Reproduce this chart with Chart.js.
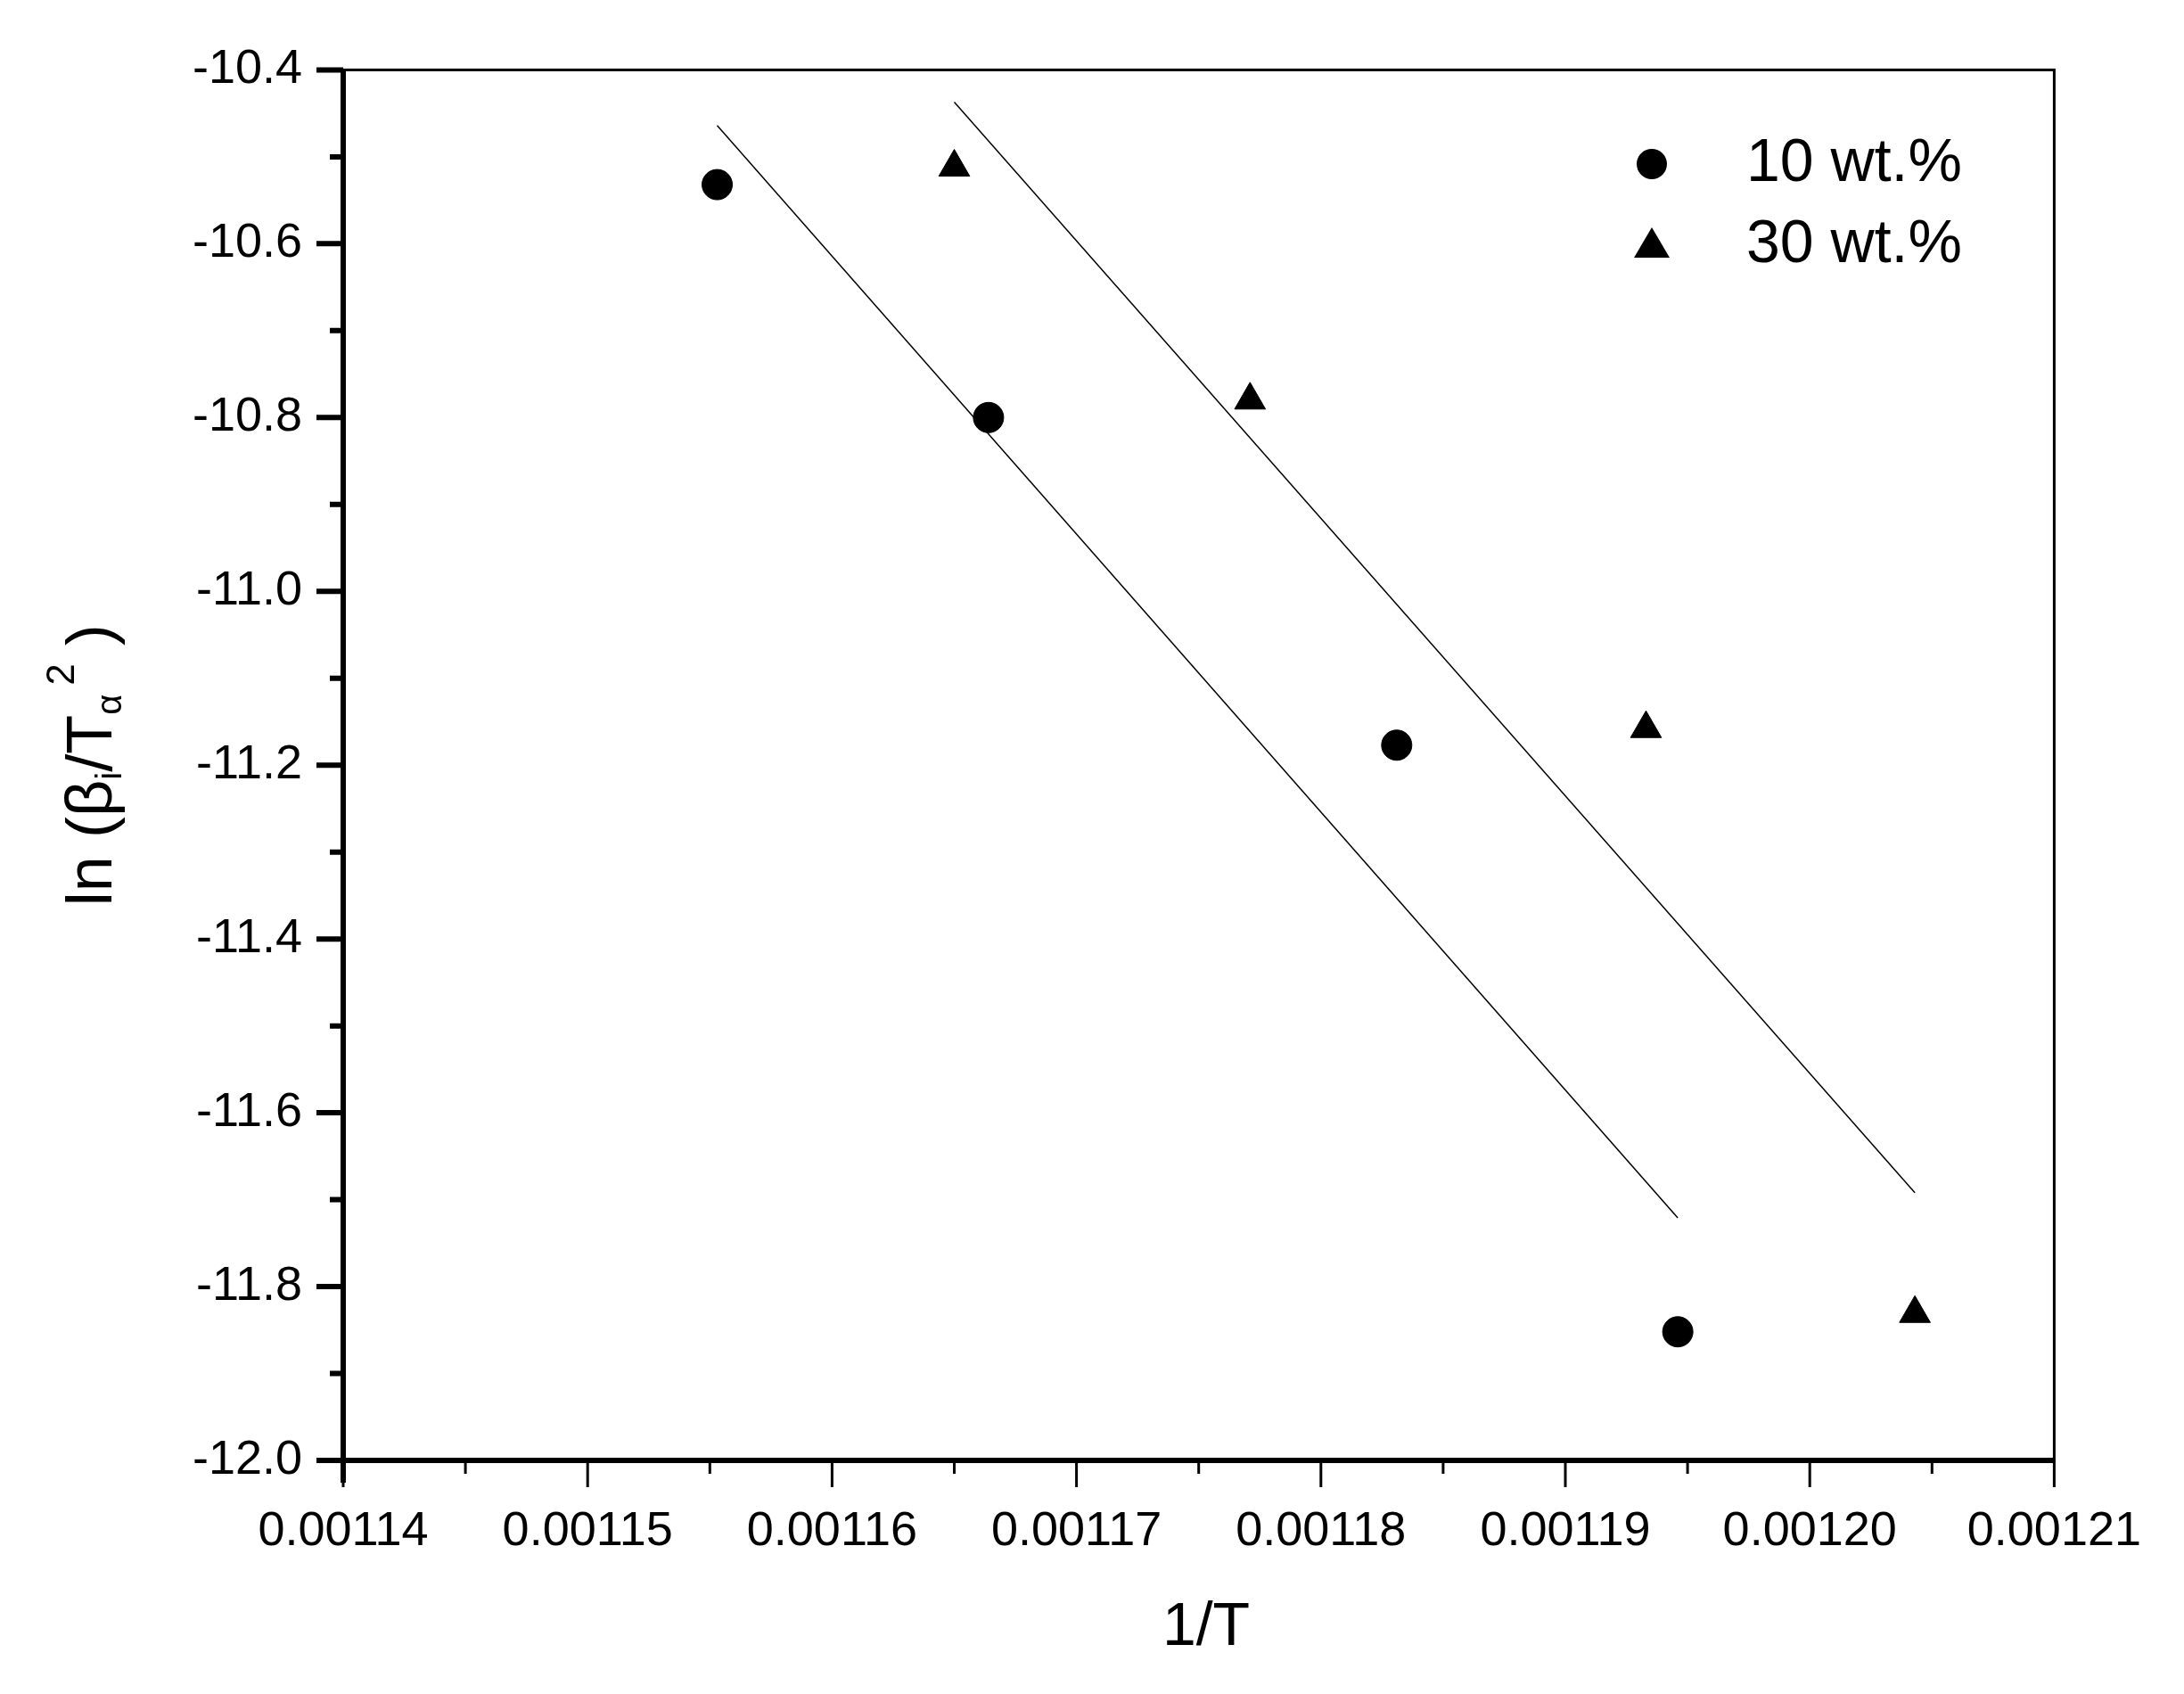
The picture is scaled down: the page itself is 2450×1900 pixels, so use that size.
<!DOCTYPE html>
<html>
<head>
<meta charset="utf-8">
<script src="https://cdn.jsdelivr.net/npm/chart.js@4.4.0/dist/chart.umd.min.js"></script>
<style>
  html, body { margin: 0; padding: 0; background: #fff; }
  #wrap { width: 2450px; height: 1900px; }
</style>
</head>
<body>
<div id="wrap"><canvas id="chart" width="2450" height="1900"></canvas></div>
<script>
// Values
const x10 = [0.0011553, 0.0011664, 0.0011831, 0.0011946];
const y10 = [-10.532, -10.800, -11.177, -11.852];
const x30 = [0.0011650, 0.0011771, 0.0011933, 0.0012043];
const y30 = [-10.512, -10.780, -11.158, -11.831];
// fitted lines (end points)
const fit10X = [0.0011553, 0.0011946];
const fit10Y = [-10.464, -11.721];
const fit30X = [0.0011650, 0.0012043];
const fit30Y = [-10.437, -11.692];
const legendLabels = ['10 wt.%', '30 wt.%'];

const FONT = '"Liberation Sans", Arial, sans-serif';
const pts = (xs, ys) => xs.map((x, i) => ({ x: x, y: ys[i] }));

const frame = {
  id: 'frame',
  afterDraw(chart) {
    const ctx = chart.ctx, a = chart.chartArea;
    const xs = chart.scales.x, ys = chart.scales.y;
    ctx.save();
    ctx.strokeStyle = '#000';
    ctx.lineWidth = 3;
    ctx.strokeRect(a.left, a.top, a.right - a.left, a.bottom - a.top);
    ctx.lineWidth = 6;
    ctx.beginPath();
    ctx.moveTo(a.left - 25, a.bottom); ctx.lineTo(a.right, a.bottom);
    ctx.moveTo(a.left, a.top); ctx.lineTo(a.left, a.bottom + 25);
    ctx.stroke();
    // ticks
    ctx.lineWidth = 3;
    ctx.beginPath();
    for (let i = 0; i <= 14; i++) {
      const v = 0.00114 + i * 0.000005;
      const px = xs.getPixelForValue(v);
      ctx.moveTo(px, a.bottom); ctx.lineTo(px, a.bottom + (i % 2 ? 15 : 30));
    }
    ctx.stroke();
    ctx.lineWidth = 6;
    ctx.beginPath();
    for (let i = 0; i <= 16; i++) {
      const v = -12 + i * 0.1;
      const py = ys.getPixelForValue(v);
      ctx.moveTo(a.left, py); ctx.lineTo(a.left - (i % 2 ? 15 : 30), py);
    }
    ctx.stroke();

    // legend
    ctx.fillStyle = '#000';
    ctx.font = '68px ' + FONT;
    ctx.textBaseline = 'middle';
    const lx = 1853, ly = [184, 275];
    ctx.beginPath(); ctx.arc(lx, ly[0], 17, 0, Math.PI * 2); ctx.fill();
    ctx.beginPath();
    ctx.moveTo(lx, ly[1] - 20); ctx.lineTo(lx + 20, ly[1] + 14); ctx.lineTo(lx - 20, ly[1] + 14);
    ctx.closePath(); ctx.fill();
    ctx.textAlign = 'left';
    ctx.fillText(legendLabels[0], 1959, ly[0]);
    ctx.fillText(legendLabels[1], 1959, ly[1]);

    // x title
    ctx.textAlign = 'center';
    ctx.font = '68px ' + FONT;
    ctx.fillText('1/T', 1353, 1826);

    // y title with sub/superscripts
    ctx.translate(105, (a.top + a.bottom) / 2);
    ctx.rotate(-Math.PI / 2);
    const parts = [
      ['ln (β', 72, 0, 0], ['i', 40, 20, 0], ['/T', 72, 0, 0], ['α', 40, 20, 10],
      ['2', 44, -34, 0], [' )', 72, 0, 0]
    ];
    parts.forEach(p => { ctx.font = p[1] + 'px ' + FONT; p.push(ctx.measureText(p[0]).width); });
    const total = parts.reduce((s, p) => s + p[4] + p[3], 0);
    let cx = -total / 2;
    ctx.textAlign = 'left';
    parts.forEach(p => {
      ctx.font = p[1] + 'px ' + FONT;
      ctx.fillText(p[0], cx, p[2]);
      cx += p[4] + p[3];
    });
    ctx.restore();
  }
};

new Chart(document.getElementById('chart'), {
  type: 'scatter',
  data: {
    datasets: [
      { label: legendLabels[0], data: pts(x10, y10), pointStyle: 'circle', pointRadius: 17,
        backgroundColor: '#000', borderColor: '#000' },
      { label: legendLabels[1], data: pts(x30, y30), pointStyle: 'triangle', pointRadius: 20,
        backgroundColor: '#000', borderColor: '#000' },
      { type: 'line', data: pts(fit10X, fit10Y), borderColor: '#000', borderWidth: 1.5,
        pointRadius: 0, fill: false },
      { type: 'line', data: pts(fit30X, fit30Y), borderColor: '#000', borderWidth: 1.5,
        pointRadius: 0, fill: false }
    ]
  },
  options: {
    responsive: false,
    animation: false,
    layout: { padding: { top: 62, right: 129, left: 0, bottom: 0 } },
    plugins: { legend: { display: false }, tooltip: { enabled: false } },
    scales: {
      x: {
        type: 'linear', min: 0.00114, max: 0.00121,
        grid: { display: false, drawTicks: false },
        border: { display: false },
        afterFit(s) { s.height = 262; },
        ticks: {
          stepSize: 0.00001, padding: 48, color: '#000',
          font: { family: FONT, size: 54 },
          callback: v => v.toFixed(5)
        }
      },
      y: {
        min: -12, max: -10.4,
        grid: { display: false, drawTicks: false },
        border: { display: false },
        afterFit(s) { s.width = 385; },
        ticks: {
          stepSize: 0.2, padding: 46, color: '#000',
          font: { family: FONT, size: 54 },
          callback: v => v.toFixed(1)
        }
      }
    }
  },
  plugins: [frame]
});
</script>
</body>
</html>
